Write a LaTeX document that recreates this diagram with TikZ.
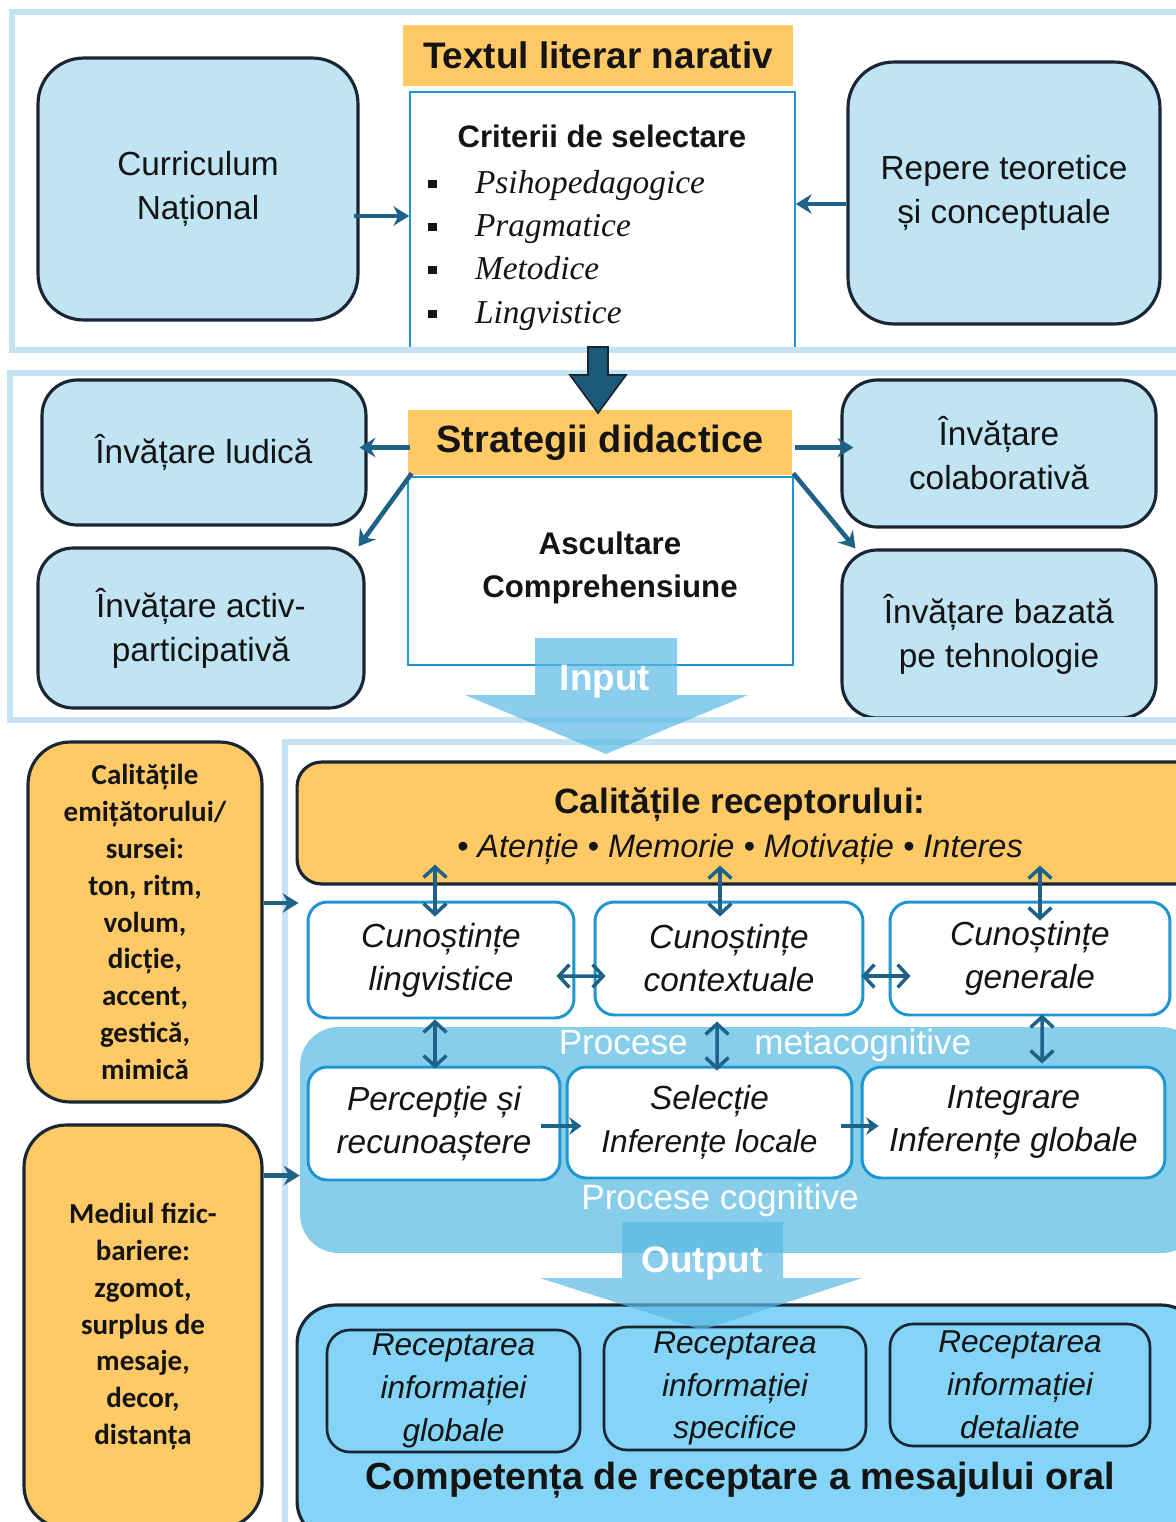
\documentclass[tikz,border=0pt]{standalone}
\usepackage{fontspec}
\setmainfont{Liberation Sans}
\newfontfamily\calfont{Carlito}
\newfontfamily\serfont{Liberation Serif}
\usetikzlibrary{arrows.meta,calc}

\definecolor{navy}{RGB}{26,38,52}
\definecolor{arrowc}{RGB}{31,98,135}
\definecolor{framec}{RGB}{196,228,244}
\definecolor{lightb}{RGB}{192,228,244}
\definecolor{orangec}{RGB}{255,202,102}
\definecolor{cyanl}{RGB}{30,150,210}
\definecolor{procc}{RGB}{134,206,234}
\definecolor{botc}{RGB}{131,212,246}
\definecolor{bigc}{RGB}{27,90,122}
\definecolor{ioc}{RGB}{90,185,228}
\definecolor{txt}{RGB}{20,20,20}

\newcommand\bul{\makebox[26.6pt][l]{\raisebox{2.6pt}{\rule{4.8pt}{4.8pt}}}}

\tikzset{
  frame/.style={draw=framec, line width=3pt},
  lbox/.style={draw=navy, line width=1.8pt, fill=lightb, rounded corners=26pt, inner sep=0pt, align=center, text=txt, font=\fontsize{19}{25}\selectfont},
  obox/.style={draw=navy, line width=1.8pt, fill=orangec, rounded corners=24pt, inner sep=0pt, align=center, text=txt, font=\calfont\bfseries\fontsize{16.5}{21}\selectfont},
  hbox/.style={fill=orangec, inner sep=0pt, text=txt, font=\bfseries\fontsize{21}{25}\selectfont},
  wbox/.style={draw=cyanl, line width=0.9pt, fill=white, inner sep=0pt},
  kbox/.style={draw=cyanl, line width=1.7pt, fill=white, rounded corners=11pt, inner sep=0pt, align=center, text=txt, font=\itshape\fontsize{19}{24.5}\selectfont},
  rbox/.style={draw=navy, line width=1.5pt, rounded corners=13pt, inner sep=0pt, align=center, text=txt, font=\itshape\fontsize{18}{24.4}\selectfont},
  conn/.style={draw=arrowc, line width=2.6pt, -{Stealth[length=9pt,width=11pt]}},
  pconn/.style={draw=arrowc, line width=2.8pt, -{Stealth[length=7pt,width=10pt]}},
  dbl/.style={draw=arrowc, line width=2pt, {Straight Barb[length=6pt,width=13pt]}-{Straight Barb[length=6pt,width=13pt]}},
  item/.style={anchor=base west, inner sep=0pt, text=txt, font=\serfont\itshape\fontsize{19}{24}\selectfont},
  wlbl/.style={text=white, inner sep=0pt, font=\fontsize{20}{24}\selectfont},
  iolbl/.style={text=white, inner sep=0pt, font=\bfseries\fontsize{21}{25}\selectfont},
  io/.style={fill=ioc, fill opacity=0.7, draw=none},
}

\begin{document}
\begin{tikzpicture}[x=0.02cm, y=-0.02cm]
    \clip (0,0) rectangle (1176,1522);
    \fill[white] (0,0) rectangle (1176,1522);

    %% text literar
    \node[lbox, minimum width=6.4cm, minimum height=5.24cm] (cur) at (198,189) {Curriculum\\Național};
    \node[hbox, minimum width=7.8cm, minimum height=1.22cm] (tit) at (598,55.5) {Textul literar narativ};
    \node[wbox, minimum width=7.7cm, minimum height=5.16cm] (crit) at (602.5,221) {};
    \node[inner sep=0pt, text=txt, font=\bfseries\fontsize{17.7}{22}\selectfont] (crittl) at (602,136) {Criterii de selectare};
    \node[item] (it1) at (428,193) {\bul Psihopedagogice};
    \node[item] (it2) at (428,236) {\bul Pragmatice};
    \node[item] (it3) at (428,279) {\bul Metodice};
    \node[item] (it4) at (428,323) {\bul Lingvistice};
    \node[lbox, minimum width=6.24cm, minimum height=5.24cm] (rep) at (1004,193) {Repere teoretice\\și conceptuale};

    %% strategii
    \node[hbox, font=\bfseries\fontsize{21.6}{26}\selectfont, minimum width=7.68cm, minimum height=1.3cm] (strat) at (600,442.5) {Strategii didactice};
    \node[wbox, minimum width=7.7cm, minimum height=3.76cm] (asc) at (600.5,571) {};
    \node[align=center, inner sep=0pt, text=txt, font=\bfseries\fontsize{17.8}{24.5}\selectfont] (asctxt) at (610,568) {Ascultare\\Comprehensiune};
    \node[lbox, rounded corners=20pt, minimum width=6.48cm, minimum height=2.9cm] (lud) at (204,452.5) {Învățare ludică};
    \node[lbox, rounded corners=20pt, minimum width=6.52cm, minimum height=3.2cm] (act) at (201,628) {Învățare activ-\\participativă};
    \node[lbox, rounded corners=20pt, minimum width=6.28cm, minimum height=2.94cm] (col) at (999,453.5) {Învățare\\colaborativă};
    \node[lbox, rounded corners=20pt, minimum width=6.28cm, minimum height=3.36cm] (teh) at (999,634) {Învățare bazată\\pe tehnologie};

    %% emitator / mediu
    \node[obox, minimum width=4.68cm, minimum height=7.2cm] (emit) at (145,922) {Calitățile\\emițătorului/\\sursei:\\ton, ritm,\\volum,\\dicție,\\accent,\\gestică,\\mimică};
    \node[obox, minimum width=4.76cm, minimum height=8.06cm] (med) at (143,1326.5) {Mediul fizic-\\bariere:\\zgomot,\\surplus de\\mesaje,\\decor,\\distanța};

    %% receptor
    \node[draw=navy, line width=1.8pt, fill=orangec, rounded corners=14pt, inner sep=0pt, minimum width=18.06cm, minimum height=2.44cm] (recp) at (748.5,823) {};
    \node[align=center, inner sep=0pt, text=txt, font=\fontsize{18.5}{25}\selectfont] (recptxt) at (740,826)
        {{\bfseries\fontsize{20}{25}\selectfont Calitățile receptorului:}\\{\itshape • Atenție • Memorie • Motivație • Interes}};
    \node[kbox, minimum width=5.32cm, minimum height=2.32cm] (lingv) at (441,960) {Cunoștințe\\lingvistice};
    \node[kbox, minimum width=5.36cm, minimum height=2.26cm] (ctx) at (729,958.5) {Cunoștințe\\contextuale};
    \node[kbox, minimum width=5.6cm, minimum height=2.26cm] (gen) at (1030,958.5) {Cunoștințe\\generale};

    % procese
    \node[fill=procc, rounded corners=22pt, inner sep=0pt, minimum width=18cm, minimum height=4.52cm] (procbg) at (750,1140) {};
    \node[wlbl] (metal) at (765,1045) {Procese\hspace{38pt}metacognitive};
    \node[kbox, minimum width=5.04cm, minimum height=2.26cm] (perc) at (434,1123.5) {Percepție\hspace{5pt}și\\recunoaștere};
    \node[kbox, minimum width=5.7cm, minimum height=2.22cm] (sel) at (709.5,1122.5) {Selecție\\{\fontsize{18}{24}\selectfont Inferențe locale}};
    \node[kbox, minimum width=6.06cm, minimum height=2.22cm] (integ) at (1013.5,1122.5) {Integrare\\Inferențe globale};
    \node[wlbl] (cogl) at (720,1200) {Procese cognitive};

    % competenta
    \node[draw=navy, line width=1.8pt, fill=botc, rounded corners=22pt, inner sep=0pt, minimum width=18.06cm, minimum height=4.7cm] (comp) at (748.5,1422.5) {};
    \node[rbox, minimum width=5.06cm, minimum height=2.44cm] (glob) at (453.5,1391) {Receptarea\\informației\\globale};
    \node[rbox, minimum width=5.24cm, minimum height=2.46cm] (spec) at (735,1388.5) {Receptarea\\informației\\specifice};
    \node[rbox, minimum width=5.2cm, minimum height=2.44cm] (det) at (1020,1385) {Receptarea\\informației\\detaliate};
    \node[inner sep=0pt, text=txt, font=\bfseries\fontsize{21.5}{25}\selectfont] (compt) at (740,1480) {Competența de receptare a mesajului oral};

    %% frames
    \draw[frame] (12,12) rectangle (1190,350);
    \draw[frame] (10,373) rectangle (1190,720);
    \draw[frame] (285,742) rectangle (1190,1540);

    %% big arrows
    \draw[navy, line width=1pt, fill=bigc] (588,347) -- (608,347) -- (608,375) -- (626,375) -- (598,413) -- (570,375) -- (588,375) -- cycle;
    \fill[io] (535,638) -- (677,638) -- (677,695) -- (748,695) -- (606,754) -- (465,695) -- (535,695) -- cycle;
    \node[iolbl] (inl) at (605,682) {Input};
    \fill[io] (622,1222) -- (783,1222) -- (783,1278) -- (862,1278) -- (702,1330) -- (540,1278) -- (622,1278) -- cycle;
    \node[iolbl] (outl) at (702,1263) {Output};

    %% connectors
    \coordinate (c1) at ([shift={(-6,27)}]cur.east);
    \draw[conn] (c1) -- (c1 -| crit.west);
    \coordinate (c2) at ([shift={(0,11)}]rep.west);
    \draw[conn] (c2) -- (c2 -| crit.east);
    \coordinate (c3) at ([shift={(2,5)}]strat.west);
    \draw[conn] (c3) -- ($(c3 -| lud.east)+(-8,0)$);
    \coordinate (c4) at ([shift={(3,5)}]strat.east);
    \draw[conn] (c4) -- ($(c4 -| col.west)+(13,0)$);
    \draw[conn] ([shift={(4,-2)}]strat.south west) -- ([shift={(-7,0)}]act.north east);
    \draw[conn] ([shift={(1,-2)}]strat.south east) -- ([shift={(15,0)}]teh.north west);
    \coordinate (c5) at ([shift={(0,-19)}]emit.east);
    \draw[conn] (c5) -- ($(c5 -| recp.west)+(3,0)$);
    \coordinate (c6) at ([shift={(0,-151)}]med.east);
    \draw[conn] (c6) -- (c6 -| procbg.west);

    % double arrows
    \draw[dbl] ([shift={(-6,-36)}]lingv.north) -- ([shift={(-6,16)}]lingv.north);
    \draw[dbl] ([shift={(-9,-35)}]ctx.north) -- ([shift={(-9,16)}]ctx.north);
    \draw[dbl] ([shift={(10,-35)}]gen.north) -- ([shift={(10,20)}]gen.north);
    \draw[dbl] ([shift={(-19,16)}]lingv.east) -- ([shift={(12,17.5)}]ctx.west);
    \draw[dbl] ([shift={(-3,17.5)}]ctx.east) -- ([shift={(22,17.5)}]gen.west);
    \draw[dbl] ([shift={(-6,0)}]lingv.south) -- ([shift={(1,3)}]perc.north);
    \draw[dbl] ([shift={(-12,5)}]ctx.south) -- ([shift={(7.5,5)}]sel.north);
    \draw[dbl] ([shift={(12,-2)}]gen.south) -- ([shift={(28.5,-2)}]integ.north);

    % procese arrows
    \draw[pconn] ([shift={(-20,2.5)}]perc.east) -- ([shift={(16,3.5)}]sel.west);
    \draw[pconn] ([shift={(-12,3.5)}]sel.east) -- ([shift={(18,3.5)}]integ.west);

\end{tikzpicture}
\end{document}
